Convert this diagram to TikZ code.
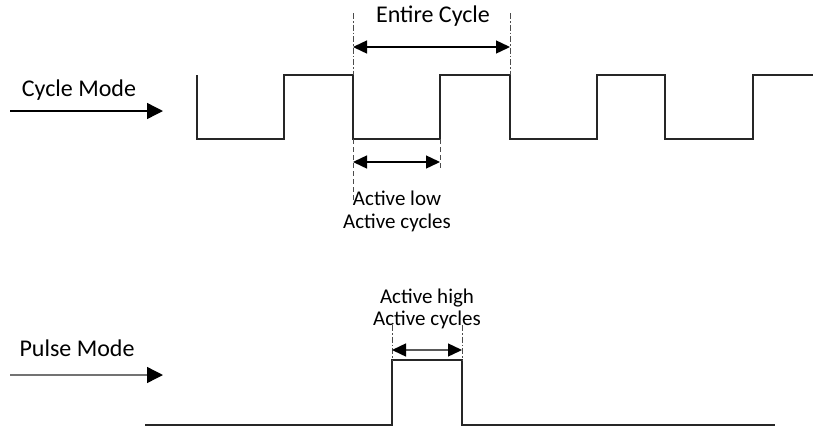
\documentclass[tikz,border=0pt]{standalone}
\usepackage{fontspec}
\setmainfont{Carlito}
\usetikzlibrary{arrows.meta}
\begin{document}
\begin{tikzpicture}[x=1pt,y=-1pt,
  wave/.style={line width=1.1pt,black!85},
  dimline/.style={line width=1.4pt,{Triangle[length=14pt,width=13pt,color=black]}-{Triangle[length=14pt,width=13pt,color=black]}},
  inarrow/.style={line width=1.4pt,-{Triangle[length=16pt,width=16pt,color=black]}},
  dashdotline/.style={line width=0.8pt,black!70,dash pattern=on 6pt off 2pt on 1.5pt off 2pt},
  dashline/.style={line width=0.8pt,black!70,dash pattern=on 5pt off 3pt},
  biglabel/.style={font=\fontsize{24}{26}\selectfont,inner sep=0pt},
  smalllabel/.style={font=\fontsize{21}{23}\selectfont,inner sep=0pt}]
\useasboundingbox (0,0) rectangle (815,429);
% cycle waveform
\draw[wave] (197,75) -- (197,139) -- (284,139) -- (284,75) -- (353,75) -- (353,139) -- (440,139) -- (440,75) -- (510,75) -- (510,139) -- (597,139) -- (597,75) -- (665,75) -- (665,139) -- (753,139) -- (753,75) -- (813,75);
% pulse waveform
\draw[wave] (145,425) -- (392,425) -- (392,360) -- (462,360) -- (462,425) -- (775,425);
% labels
\node[biglabel] (cm) at (79,90) {Cycle Mode};
\node[biglabel] (pm) at (77,348) {Pulse Mode};
\node[biglabel] (ec) at (433,16) {Entire Cycle};
\node[smalllabel] (al) at (397,198) {Active low};
\node[smalllabel] (alc) at (397,223) {Active cycles};
\node[smalllabel] (ah) at (427,298) {Active high};
\node[smalllabel] (ahc) at (427,320) {Active cycles};
% coordinates
\coordinate (cmA) at (10,111); \coordinate (cmB) at (163,111);
\coordinate (pmA) at (10,375); \coordinate (pmB) at (163,375);
\coordinate (ecA) at (353,47); \coordinate (ecB) at (510,47);
\coordinate (alA) at (353,162); \coordinate (alB) at (440,162);
\coordinate (ahA) at (392,350); \coordinate (ahB) at (462,350);
% guide lines
\draw[dashdotline] (353,13) -- (353,75);
\draw[dashdotline] (510,13) -- (510,75);
\draw[dashline] (353,139) -- (353,203);
\draw[dashline] (440,139) -- (440,168);
\draw[dashdotline] (392,325) -- (392,360);
\draw[dashdotline] (462,325) -- (462,360);
% arrows
\draw[inarrow] (cmA) -- (cmB);
\draw[inarrow,draw=black!55] (pmA) -- (pmB);
\draw[dimline] (ecA) -- (ecB);
\draw[dimline] (alA) -- (alB);
\draw[dimline,draw=black!65] (ahA) -- (ahB);
\end{tikzpicture}
\end{document}
